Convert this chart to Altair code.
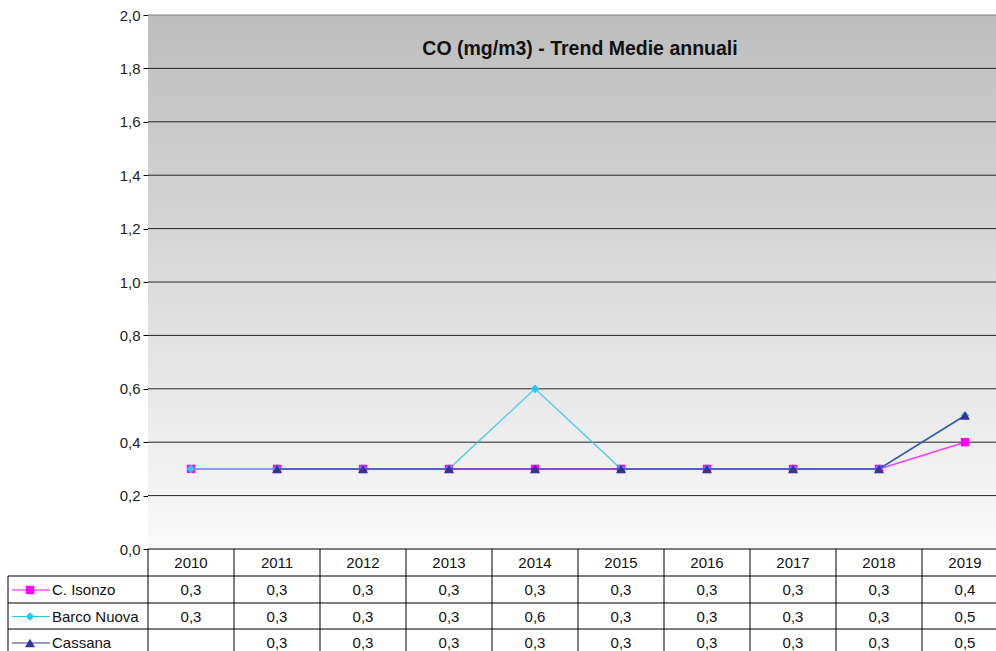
import altair as alt
import pandas as pd

# Annual mean CO concentrations (mg/m3) per monitoring station
years = [2010, 2011, 2012, 2013, 2014, 2015, 2016, 2017, 2018, 2019]
c_isonzo = [0.3, 0.3, 0.3, 0.3, 0.3, 0.3, 0.3, 0.3, 0.3, 0.4]
barco_nuova = [0.3, 0.3, 0.3, 0.3, 0.6, 0.3, 0.3, 0.3, 0.3, 0.5]
cassana = [None, 0.3, 0.3, 0.3, 0.3, 0.3, 0.3, 0.3, 0.3, 0.5]

series_names = ["C. Isonzo", "Barco Nuova", "Cassana"]
series_values = [c_isonzo, barco_nuova, cassana]
series_colors = ["#ff00ff", "#2ec4ee", "#333399"]
series_shapes = ["square", "diamond", "triangle-up"]
series_sizes = [70, 75, 100]

y_ticks = [0.0, 0.2, 0.4, 0.6, 0.8, 1.0, 1.2, 1.4, 1.6, 1.8, 2.0]

W, H = 848, 534          # plot area in px
COL = 86                 # px per year column
X_DOMAIN = [0, W / COL]  # x measured in column units
FONT = "Liberation Sans"

rows = []
for name, vals in zip(series_names, series_values):
    for yr, v in zip(years, vals):
        rows.append({"series": name, "year": yr, "value": v})
df = pd.DataFrame(rows)
years_df = pd.DataFrame({"year": years})
ticks_df = pd.DataFrame({"tick": y_ticks})
one = pd.DataFrame({"a": [0]})

xs = alt.Scale(domain=X_DOMAIN, nice=False, zero=False)
ys = alt.Scale(domain=[0, 2], nice=False, zero=True)

# Plot-area gradient background
bg = alt.Chart(one).mark_rect(
    fill=alt.Gradient(
        gradient="linear",
        stops=[alt.GradientStop(color="#bdbdbd", offset=0),
               alt.GradientStop(color="#fafafa", offset=1)],
        x1=0, x2=0, y1=0, y2=1,
    )
).encode(x=alt.value(0), x2=alt.value(W), y=alt.value(0), y2=alt.value(H))

# Horizontal gridlines
grid = alt.Chart(ticks_df).transform_filter("datum.tick > 0 && datum.tick < 2").mark_rule(
    color="#222222", strokeWidth=1
).encode(
    y=alt.Y("tick:Q", scale=ys, axis=alt.Axis(
        values=y_ticks, title=None, labelExpr="replace(format(datum.value, '.1f'), '.', ',')",
        labelFontSize=15, labelFont=FONT, labelColor="#222222", labelPadding=3,
        tickColor="#000000", tickSize=5, domainColor="#000000", grid=False,
    )),
    x=alt.value(0), x2=alt.value(W),
)
top_border = alt.Chart(one).mark_rule(color="#808080").encode(
    y=alt.value(0), x=alt.value(0), x2=alt.value(W))
bottom_line = alt.Chart(one).mark_rule(color="#000000").encode(
    y=alt.value(H), x=alt.value(0), x2=alt.value(W))

title = alt.Chart(one).mark_text(
    text="CO (mg/m3) - Trend Medie annuali", font=FONT, fontSize=19.5,
    fontWeight="bold", color="#111111", align="center", baseline="middle",
).encode(x=alt.value(432), y=alt.value(34))

layers = [bg, grid, top_border, bottom_line, title]

# Data table grid
ROW_LINES = [H + 27, H + 54, H + 80]
ROW_CENTERS = [H + 14, H + 41, H + 67.5, H + 94]
BOTTOM = H + 110
LEFT = -140

for yl in ROW_LINES:
    layers.append(alt.Chart(one).mark_rule(color="#000000").encode(
        y=alt.value(yl), x=alt.value(LEFT), x2=alt.value(W)))
layers.append(alt.Chart(one).mark_rule(color="#000000").encode(
    x=alt.value(LEFT), y=alt.value(ROW_LINES[0]), y2=alt.value(BOTTOM)))
layers.append(alt.Chart(one).mark_rule(color="#000000").encode(
    x=alt.value(0), y=alt.value(H), y2=alt.value(BOTTOM)))
layers.append(
    alt.Chart(years_df).transform_calculate(edge="datum.year - 2009")
    .transform_filter("datum.edge < 10")
    .mark_rule(color="#000000")
    .encode(x=alt.X("edge:Q", scale=xs, axis=None), y=alt.value(H), y2=alt.value(BOTTOM))
)

# Year header row
layers.append(
    alt.Chart(years_df).transform_calculate(pos="datum.year - 2009.5")
    .mark_text(font=FONT, fontSize=15, color="#111111", baseline="middle")
    .encode(x=alt.X("pos:Q", scale=xs, axis=None), y=alt.value(ROW_CENTERS[0]),
            text="year:N")
)

# Series lines and markers, then their table rows
for i, (name, color, shape, size) in enumerate(
        zip(series_names, series_colors, series_shapes, series_sizes)):
    sdf = df[df["series"] == name]
    base = alt.Chart(sdf).transform_calculate(pos="datum.year - 2009.5")
    layers.append(base.mark_line(color=color, strokeWidth=1.5, opacity=0.75).encode(
        x=alt.X("pos:Q", scale=xs, axis=None), y=alt.Y("value:Q", scale=ys)))
    layers.append(base.mark_point(color=color, filled=True, opacity=1, shape=shape, size=size).encode(
        x=alt.X("pos:Q", scale=xs, axis=None), y=alt.Y("value:Q", scale=ys)))

    cy = ROW_CENTERS[i + 1]
    layers.append(
        base.transform_filter("isValid(datum.value)")
        .transform_calculate(label="replace(format(datum.value, '.1f'), '.', ',')")
        .mark_text(font=FONT, fontSize=15, color="#111111", baseline="middle")
        .encode(x=alt.X("pos:Q", scale=xs, axis=None), y=alt.value(cy), text="label:N")
    )
    # legend key in the table's first column
    layers.append(alt.Chart(one).mark_rule(color=color, strokeWidth=1.2).encode(
        x=alt.value(-136), x2=alt.value(-98), y=alt.value(cy)))
    layers.append(alt.Chart(one).mark_point(
        color=color, filled=True, opacity=1, shape=shape, size=size).encode(
        x=alt.value(-118), y=alt.value(cy)))
    layers.append(alt.Chart(one).mark_text(
        text=name, font=FONT, fontSize=15, color="#111111", align="left", baseline="middle"
    ).encode(x=alt.value(-96), y=alt.value(cy)))

chart = alt.layer(*layers).properties(
    width=W, height=H,
    autosize=alt.AutoSizeParams(type="none"),
    padding={"left": 148, "top": 15, "right": 0, "bottom": 102},
    background="#ffffff",
).configure_view(stroke=None)

chart.save("out.html", embed_options={"renderer": "svg", "actions": False})
